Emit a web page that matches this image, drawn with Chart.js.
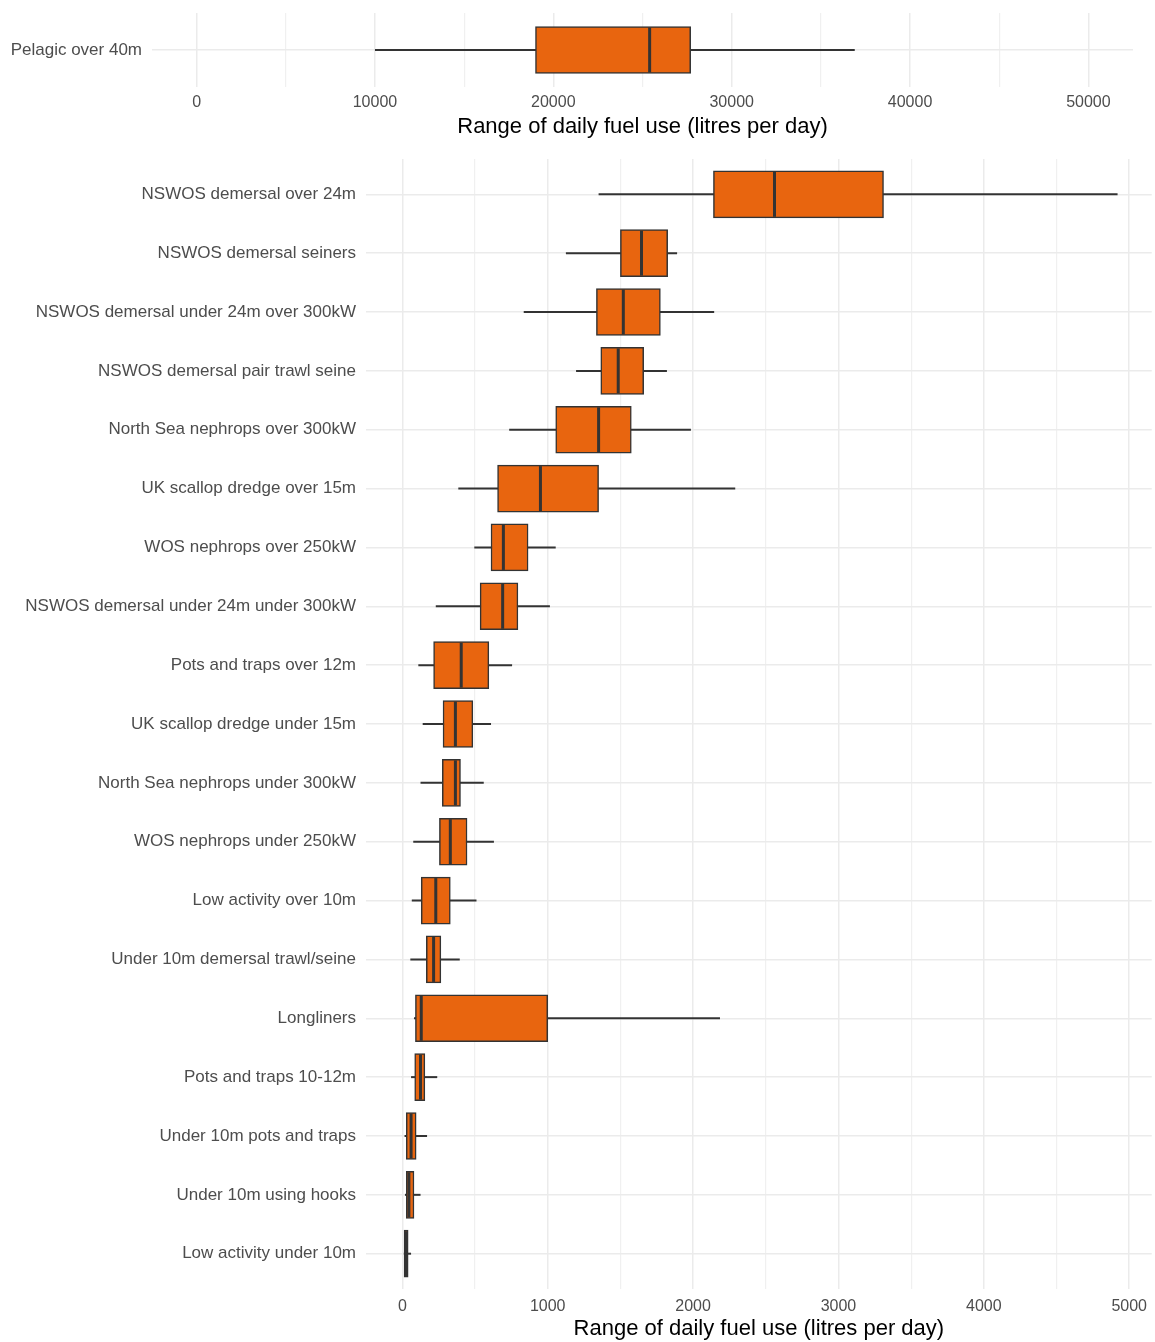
<!DOCTYPE html>
<html>
<head>
<meta charset="utf-8">
<script src="https://cdn.jsdelivr.net/npm/chart.js@4.4.1/dist/chart.umd.min.js"></script>
<style>
  body { margin: 0; background: #fff; width: 1155px; height: 1342px; overflow: hidden; }
  .panel { position: absolute; left: 0; width: 1155px; }
</style>
</head>
<body>
<div class="panel" style="top:0;height:140px"><canvas id="pelagic-chart"></canvas></div>
<div class="panel" style="top:140px;height:1202px"><canvas id="fleet-chart"></canvas></div>
<script>
// top panel
const pelagicCategories = ['Pelagic over 40m'];
const pelagicLow = [10000];
const pelagicQ1 = [19000];
const pelagicMedian = [25400];
const pelagicQ3 = [27700];
const pelagicHigh = [36900];
const pelagicTicks = [0, 5000, 10000, 15000, 20000, 25000, 30000, 35000, 40000, 45000, 50000];

// main panel
const fleetCategories = [
  'NSWOS demersal over 24m',
  'NSWOS demersal seiners',
  'NSWOS demersal under 24m over 300kW',
  'NSWOS demersal pair trawl seine',
  'North Sea nephrops over 300kW',
  'UK scallop dredge over 15m',
  'WOS nephrops over 250kW',
  'NSWOS demersal under 24m under 300kW',
  'Pots and traps over 12m',
  'UK scallop dredge under 15m',
  'North Sea nephrops under 300kW',
  'WOS nephrops under 250kW',
  'Low activity over 10m',
  'Under 10m demersal trawl/seine',
  'Longliners',
  'Pots and traps 10-12m',
  'Under 10m pots and traps',
  'Under 10m using hooks',
  'Low activity under 10m',
];
const fleetLow = [1350, 1125, 835, 1195, 735, 385, 495, 230, 110, 140, 125, 75, 65, 55, 80, 60, 15, 18, 10];
const fleetQ1 = [2140, 1500, 1335, 1365, 1055, 655, 610, 535, 215, 280, 275, 255, 130, 165, 90, 85, 27, 27, 12];
const fleetMedian = [2560, 1645, 1520, 1485, 1350, 950, 695, 690, 405, 365, 365, 330, 230, 215, 130, 125, 60, 45, 22];
const fleetQ3 = [3310, 1825, 1775, 1660, 1575, 1350, 865, 795, 595, 485, 400, 445, 330, 265, 1000, 155, 95, 80, 40];
const fleetHigh = [4920, 1890, 2145, 1820, 1985, 2290, 1055, 1015, 755, 610, 560, 630, 510, 395, 2185, 240, 170, 125, 60];
const fleetTicks = [0, 500, 1000, 1500, 2000, 2500, 3000, 3500, 4000, 4500, 5000];

const FONT = "'Liberation Sans', Arial, Helvetica, sans-serif";
const BOX_FILL = '#e8650f';
const LINE = '#333333';

function whiskerPlugin(low, median, high) {
  return {
    id: 'whiskers',
    beforeDatasetsDraw(chart) {
      const { ctx, scales } = chart;
      ctx.save();
      ctx.strokeStyle = LINE;
      ctx.lineWidth = 2;
      low.forEach((v, i) => {
        const py = scales.y.getPixelForValue(i);
        ctx.beginPath();
        ctx.moveTo(scales.x.getPixelForValue(v), py);
        ctx.lineTo(scales.x.getPixelForValue(high[i]), py);
        ctx.stroke();
      });
      ctx.restore();
    },
    afterDatasetsDraw(chart) {
      const { ctx, scales } = chart;
      const meta = chart.getDatasetMeta(0);
      ctx.save();
      ctx.strokeStyle = LINE;
      ctx.lineWidth = 3;
      meta.data.forEach((bar, i) => {
        const px = scales.x.getPixelForValue(median[i]);
        ctx.beginPath();
        ctx.moveTo(px, bar.y - bar.height / 2 + 1);
        ctx.lineTo(px, bar.y + bar.height / 2 - 1);
        ctx.stroke();
      });
      ctx.restore();
    },
  };
}

function createBoxChart(id, cfg) {
  const ctx = document.getElementById(id).getContext('2d');
  const n = cfg.categories.length;
  const major = cfg.majorStep;

  return new Chart(ctx, {
    type: 'bar',
    data: {
      datasets: [{
        data: cfg.categories.map((c, i) => ({ y: i, x: [cfg.q1[i], cfg.q3[i]] })),
        backgroundColor: BOX_FILL,
        borderColor: LINE,
        borderWidth: 1.5,
        borderSkipped: false,
        barThickness: 47,
      }],
    },
    options: {
      indexAxis: 'y',
      maintainAspectRatio: false,
      animation: false,
      events: [],
      layout: { padding: cfg.padding },
      plugins: { legend: { display: false }, tooltip: { enabled: false } },
      scales: {
        x: {
          type: 'linear',
          min: cfg.xMin,
          max: cfg.xMax,
          afterBuildTicks: (scale) => { scale.ticks = cfg.ticks.map(v => ({ value: v })); },
          afterFit: (scale) => { scale.height = 53; },
          border: { display: false },
          grid: {
            drawTicks: false,
            color: (c) => (c.tick && c.tick.value % major === 0 ? '#ebebeb' : '#f0f0f0'),
            lineWidth: (c) => (c.tick && c.tick.value % major === 0 ? 1.5 : 1.2),
          },
          ticks: {
            autoSkip: false,
            maxRotation: 0,
            padding: cfg.tickPad,
            color: '#4d4d4d',
            font: { family: FONT, size: 16 },
            callback: (v) => (v % major === 0 ? String(v) : ''),
          },
          title: {
            display: true,
            text: 'Range of daily fuel use (litres per day)',
            color: '#000',
            font: { family: FONT, size: 22 },
            padding: { top: 0, bottom: cfg.titlePad },
          },
        },
        y: {
          type: 'linear',
          reverse: true,
          offset: false,
          min: -0.6,
          max: n - 0.4,
          afterBuildTicks: (scale) => { scale.ticks = cfg.categories.map((c, i) => ({ value: i })); },
          afterFit: (scale) => {
            scale.width = cfg.labelWidth;
            scale.paddingTop = 0;
            scale.paddingBottom = 0;
          },
          border: { display: false },
          grid: { drawTicks: false, offset: false, color: '#ebebeb', lineWidth: 1.5 },
          ticks: {
            autoSkip: false,
            padding: 10,
            color: '#4d4d4d',
            font: { family: FONT, size: 17 },
            callback: (v) => cfg.categories[v],
          },
        },
      },
    },
    plugins: [whiskerPlugin(cfg.low, cfg.median, cfg.high)],
  });
}

createBoxChart('pelagic-chart', {
  categories: pelagicCategories,
  low: pelagicLow, q1: pelagicQ1, median: pelagicMedian, q3: pelagicQ3, high: pelagicHigh,
  ticks: pelagicTicks,
  majorStep: 10000,
  xMin: -2500,
  xMax: 52500,
  labelWidth: 152,
  tickPad: 6,
  titlePad: 0,
  padding: { top: 13, right: 22, bottom: 0, left: 0 },
});

createBoxChart('fleet-chart', {
  categories: fleetCategories,
  low: fleetLow, q1: fleetQ1, median: fleetMedian, q3: fleetQ3, high: fleetHigh,
  ticks: fleetTicks,
  majorStep: 1000,
  xMin: -250,
  xMax: 5155,
  labelWidth: 366,
  tickPad: 8,
  titlePad: 0,
  padding: { top: 19, right: 0, bottom: 0, left: 0 },
});
</script>
</body>
</html>
